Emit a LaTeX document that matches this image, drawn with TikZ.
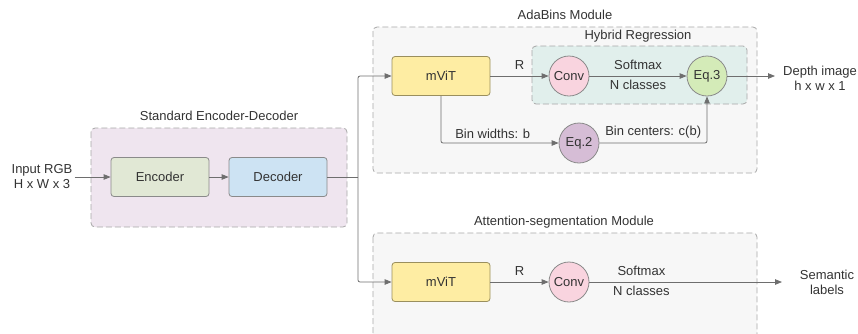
\documentclass[tikz,border=0pt]{standalone}
\usepackage{fontspec}
\setmainfont{Liberation Sans}
\usetikzlibrary{arrows.meta}
\definecolor{txt}{HTML}{333333}
\definecolor{ln}{HTML}{6E6E6E}
\definecolor{bord}{HTML}{8A8A8A}
\definecolor{dashc}{HTML}{A8A8A8}
\definecolor{encfill}{HTML}{E1E8D5}
\definecolor{decfill}{HTML}{CDE3F3}
\definecolor{vitfill}{HTML}{FEEDA3}
\definecolor{vitbord}{HTML}{9A8F5E}
\definecolor{convfill}{HTML}{F9D4DF}
\definecolor{eqthfill}{HTML}{D4EBB8}
\definecolor{eqtwfill}{HTML}{D6BDD6}
\definecolor{sedfill}{HTML}{EFE5EF}
\definecolor{modfill}{HTML}{F7F7F7}
\definecolor{hybfill}{HTML}{E1EFEC}
\begin{document}
\begin{tikzpicture}[x=1pt,y=-1pt,
  font=\fontsize{13}{15}\selectfont, text=txt,
  group/.style={draw=dashc, dashed, dash pattern=on 6pt off 3pt, rounded corners=4pt, line width=0.8pt},
  block/.style={draw=bord, rounded corners=3pt, line width=0.8pt, minimum width=98pt, minimum height=39pt, inner sep=0pt},
  opnode/.style={circle, draw=bord, line width=0.8pt, minimum size=40pt, inner sep=0pt},
  conn/.style={draw=ln, line width=0.8pt, rounded corners=2pt},
  arr/.style={conn, -{Triangle[length=7pt,width=5.5pt]}},
  lbl/.style={inner sep=0pt, align=center}]
\useasboundingbox (0,0) rectangle (858,333);

% module frames
\fill[modfill, rounded corners=4pt] (373,27) rectangle (757,173);
\draw[group] (373,27) rectangle (757,173);
\node[lbl] at (565,15) {AdaBins Module};
\fill[hybfill, rounded corners=4pt] (532,46) rectangle (747,104);
\draw[group] (532,46) rectangle (747,104);
\node[lbl] at (638,36) {Hybrid Regression};
\fill[sedfill, rounded corners=4pt] (91,128) rectangle (347,227);
\draw[group] (91,128) rectangle (347,227);
\node[lbl] at (219,116) {Standard Encoder-Decoder};
\fill[modfill, rounded corners=4pt] (373,233) rectangle (757,345);
\draw[group] (373,233) rectangle (757,345);
\node[lbl] at (564,222) {Attention-segmentation Module};

% blocks
\node[lbl] (inp) at (42,177) {Input RGB\\H x W x 3};
\node[block, fill=encfill] (enc) at (160,177) {Encoder};
\node[block, fill=decfill] (dec) at (278,177) {Decoder};
\node[block, fill=vitfill, draw=vitbord] (vita) at (441,76) {mViT};
\node[opnode, fill=convfill] (conva) at (569,76) {Conv};
\node[opnode, fill=eqthfill] (eqth) at (707,76) {Eq.3};
\node[opnode, fill=eqtwfill] (eqtw) at (579,143) {Eq.2};
\node[lbl] (depth) at (820,78) {Depth image\\h x w x 1};
\node[block, fill=vitfill, draw=vitbord] (vitb) at (441,282) {mViT};
\node[opnode, fill=convfill] (convb) at (569,282) {Conv};
\node[lbl] (sem) at (827,282) {Semantic\\labels};
\coordinate (split) at (358,177);
\coordinate (deptip) at (775,76);
\coordinate (semtip) at (782,282);

% connectors
\draw[arr] (inp.east) ++(2,0) -- (enc.west);
\draw[arr] (enc) -- (dec);
\draw[conn] (dec.east) -- (split);
\draw[arr] (split) |- (vita.west);
\draw[arr] (split) |- (vitb.west);
\draw[arr] (vita) -- node[lbl, above=6pt] {R} (conva);
\draw[arr] (conva) -- node[lbl, above=6pt] {Softmax} node[lbl, below=4pt] {N classes} (eqth);
\draw[arr] (eqth) -- (deptip);
\draw[arr] (vita.south) |- node[lbl, pos=0.72, above=4pt] {Bin widths: b} (eqtw.west);
\draw[arr] (eqtw.east) -| node[lbl, pos=0.25, above=4pt] {Bin centers: c(b)} (eqth.south);
\draw[arr] (vitb) -- node[lbl, above=6pt] {R} (convb);
\draw[arr] (convb) -- node[lbl, pos=0.27, above=6pt] {Softmax} node[lbl, pos=0.27, below=4pt] {N classes} (semtip);
\end{tikzpicture}
\end{document}
